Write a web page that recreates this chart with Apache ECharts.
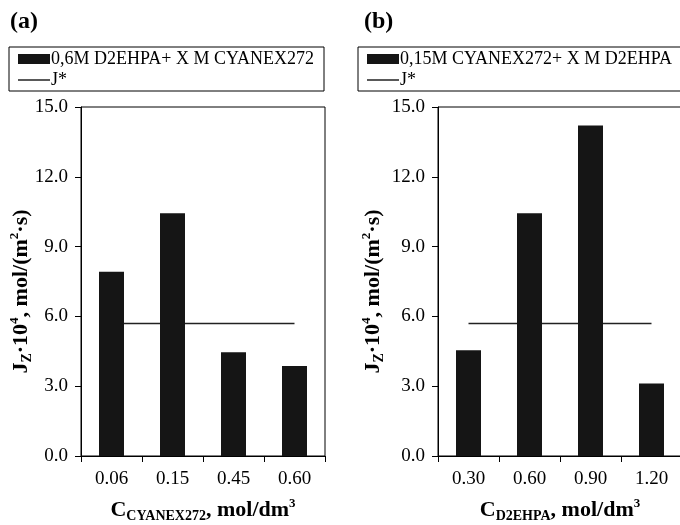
<!DOCTYPE html>
<html>
<head>
<meta charset="utf-8">
<script src="https://cdn.jsdelivr.net/npm/echarts@6/dist/echarts.min.js"></script>
<style>
  html, body { margin: 0; padding: 0; background: #fff; }
  #chart { width: 680px; height: 525px; }
</style>
</head>
<body>
<div id="chart"></div>
<script>
// panel (a): 0,6M D2EHPA + x M CYANEX272
var catsA = ['0.06', '0.15', '0.45', '0.60'];
var fluxA = [7.92, 10.43, 4.46, 3.87];
// panel (b): 0,15M CYANEX272 + x M D2EHPA
var catsB = ['0.30', '0.60', '0.90', '1.20'];
var fluxB = [4.55, 10.43, 14.2, 3.12];
// J* reference flux
var jStar = 5.69;
var nameA = '0,6M D2EHPA+ X M CYANEX272';
var nameB = '0,15M CYANEX272+ X M D2EHPA';

var chart = echarts.init(document.getElementById('chart'));
var serif = 'Liberation Serif';

var nameRich = {
  m: { fontFamily: serif, fontWeight: 'bold', fontSize: 22, color: '#000', lineHeight: 26 },
  sub: { fontFamily: serif, fontWeight: 'bold', fontSize: 14, color: '#000', verticalAlign: 'bottom', lineHeight: 26 },
  sup: { fontFamily: serif, fontWeight: 'bold', fontSize: 13, color: '#000', verticalAlign: 'top', lineHeight: 26 }
};

function xAxisOf(idx, cats, nm) {
  return {
    type: 'category', gridIndex: idx, data: cats,
    name: nm, nameLocation: 'middle', nameGap: 41,
    nameTextStyle: { rich: nameRich },
    axisLine: { lineStyle: { color: '#000', width: 1 } },
    axisTick: { show: true, length: 6, lineStyle: { color: '#000' } },
    axisLabel: { fontFamily: serif, fontSize: 19, color: '#000', margin: 14 }
  };
}
function yAxisOf(idx, gap) {
  return {
    type: 'value', gridIndex: idx, min: 0, max: 15, interval: 3,
    name: '{m|J}{sub|Z}{m|·10}{sup|4}{m|, mol/(m}{sup|2}{m|·s)}',
    nameLocation: 'middle', nameGap: gap, nameRotate: 90,
    nameMoveOverlap: false,
    // name sits a little below the plot centre in the original
    nameTextStyle: { rich: nameRich, padding: [0, 20, 0, 0] },
    axisLine: { show: true, lineStyle: { color: '#000', width: 1 } },
    axisTick: { show: true, length: 6, lineStyle: { color: '#000' } },
    splitLine: { show: false },
    axisLabel: {
      fontFamily: serif, fontSize: 19, color: '#000', margin: 13,
      formatter: function (v) { return v.toFixed(1); }
    }
  };
}
function legendOf(left, barName) {
  return {
    left: left, top: 47, orient: 'vertical',
    data: [
      { name: barName, icon: 'rect' },
      { name: 'J*', icon: 'path://M0,0H64V3H0Z' }
    ],
    itemWidth: 32, itemHeight: 10, itemGap: 3,
    padding: [3, 10, 2, 9],
    borderColor: '#000', borderWidth: 1,
    selectedMode: false,
    textStyle: { fontFamily: serif, fontSize: 18, color: '#000', lineHeight: 18, padding: [0, 0, 0, -4] }
  };
}

var option = {
  animation: false,
  backgroundColor: '#fff',
  title: [
    { text: '(a)', left: 5, top: 5, textStyle: { fontFamily: serif, fontWeight: 'bold', fontSize: 24, color: '#000' } },
    { text: '(b)', left: 359, top: 5, textStyle: { fontFamily: serif, fontWeight: 'bold', fontSize: 24, color: '#000' } }
  ],
  legend: [
    legendOf(9, nameA),
    legendOf(358, nameB)
  ],
  grid: [
    { left: 81, top: 107, width: 244, height: 349, outerBoundsMode: 'none', show: true, borderColor: '#000', borderWidth: 1, backgroundColor: 'transparent' },
    { left: 438, top: 107, width: 244, height: 349, outerBoundsMode: 'none', show: true, borderColor: '#000', borderWidth: 1, backgroundColor: 'transparent' }
  ],
  xAxis: [
    xAxisOf(0, catsA, '{m|C}{sub|CYANEX272}{m|, mol/dm}{sup|3}'),
    xAxisOf(1, catsB, '{m|C}{sub|D2EHPA}{m|, mol/dm}{sup|3}')
  ],
  yAxis: [yAxisOf(0, 47), yAxisOf(1, 52)],
  series: [
    { name: nameA, type: 'bar', xAxisIndex: 0, yAxisIndex: 0, data: fluxA, barWidth: 25, z: 3,
      itemStyle: { color: '#151515' } },
    { name: 'J*', type: 'line', xAxisIndex: 0, yAxisIndex: 0, z: 2, symbol: 'none',
      data: catsA.map(function () { return jStar; }),
      lineStyle: { color: '#222', width: 1.5 }, itemStyle: { color: '#222' } },
    { name: nameB, type: 'bar', xAxisIndex: 1, yAxisIndex: 1, data: fluxB, barWidth: 25, z: 3,
      itemStyle: { color: '#151515' } },
    { name: 'J*', type: 'line', xAxisIndex: 1, yAxisIndex: 1, z: 2, symbol: 'none',
      data: catsB.map(function () { return jStar; }),
      lineStyle: { color: '#222', width: 1.5 }, itemStyle: { color: '#222' } }
  ]
};
chart.setOption(option);
</script>
</body>
</html>
